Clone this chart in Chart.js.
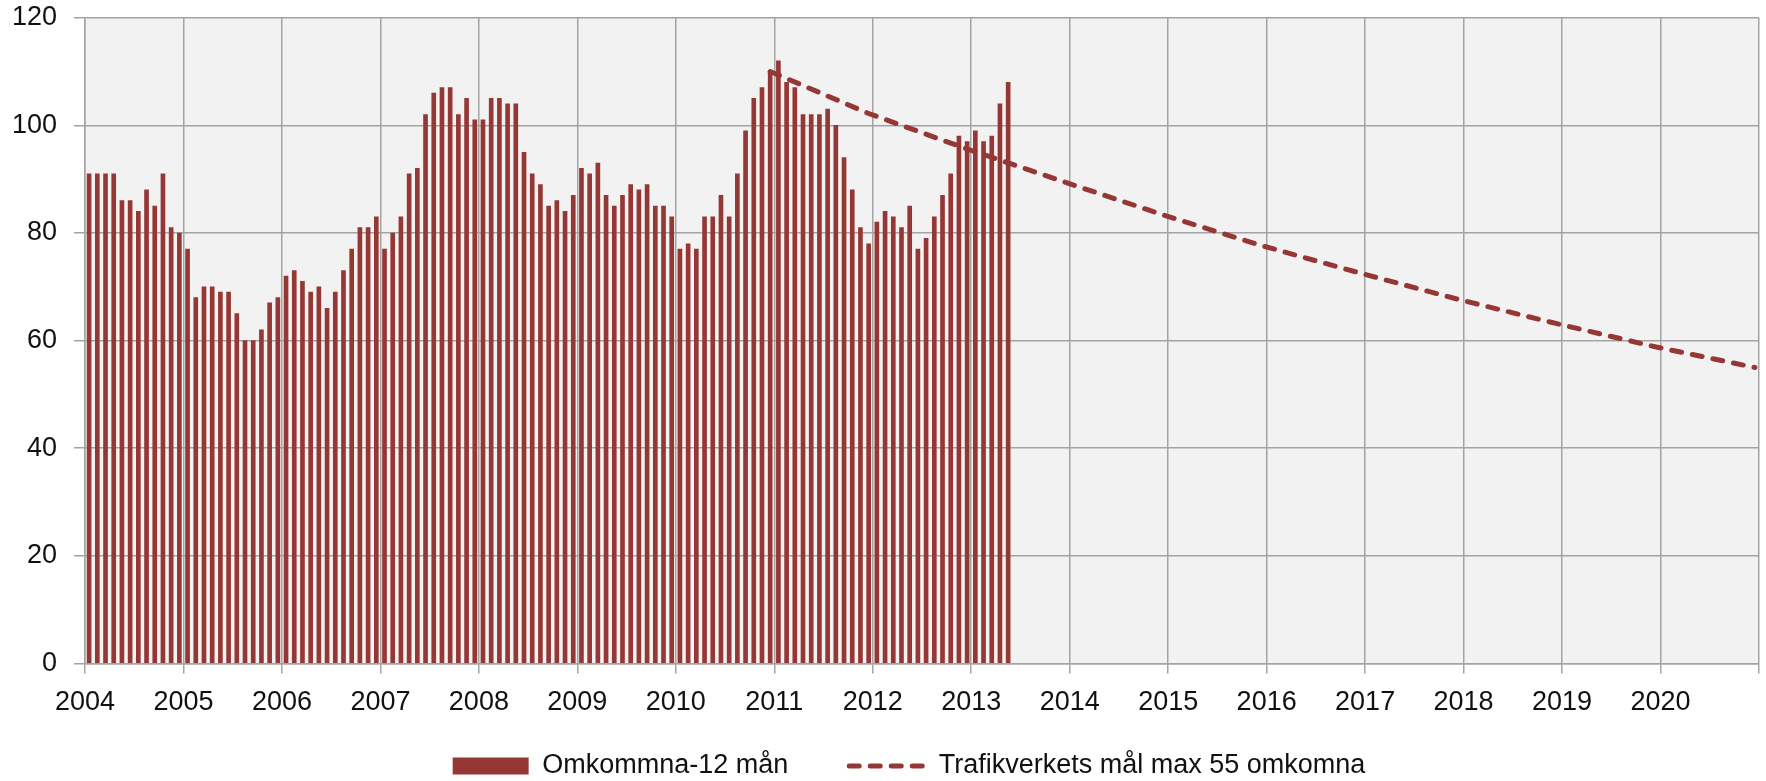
<!DOCTYPE html>
<html lang="sv">
<head>
<meta charset="UTF-8">
<title>Omkommna</title>
<script src="https://cdn.jsdelivr.net/npm/chart.js@4.4.0/dist/chart.umd.min.js"></script>
<style>
    * { margin: 0; padding: 0; box-sizing: border-box; }
    body { background: #fff; width: 1766px; height: 781px; overflow: hidden; }
    #wrap { width: 1766px; height: 781px; }
</style>
</head>
<body>
<div id="wrap"><canvas id="chart"></canvas></div>
<script>
// year labels on the x axis, one per January
const yearLabels = ['2004', '2005', '2006', '2007', '2008', '2009', '2010', '2011', '2012',
    '2013', '2014', '2015', '2016', '2017', '2018', '2019', '2020']

// killed, rolling 12 months, monthly from Jan 2004 to May 2013
const killed2004 = [91, 91, 91, 91, 86, 86, 84, 88, 85, 91, 81, 80]
const killed2005 = [77, 68, 70, 70, 69, 69, 65, 60, 60, 62, 67, 68]
const killed2006 = [72, 73, 71, 69, 70, 66, 69, 73, 77, 81, 81, 83]
const killed2007 = [77, 80, 83, 91, 92, 102, 106, 107, 107, 102, 105, 101]
const killed2008 = [101, 105, 105, 104, 104, 95, 91, 89, 85, 86, 84, 87]
const killed2009 = [92, 91, 93, 87, 85, 87, 89, 88, 89, 85, 85, 83]
const killed2010 = [77, 78, 77, 83, 83, 87, 83, 91, 99, 105, 107, 110]
const killed2011 = [112, 108, 107, 102, 102, 102, 103, 100, 94, 88, 81, 78]
const killed2012 = [82, 84, 83, 81, 85, 77, 79, 83, 87, 91, 98, 97]
const killed2013 = [99, 97, 98, 104, 108]

// Trafikverket target path, value each December
const goalYears = [2010, 2011, 2012, 2013, 2014, 2015, 2016, 2017, 2018, 2019, 2020]
const goalValues = [110, 102.2, 95.6, 89.4, 83.3, 77.6, 72.5, 67.6, 63.1, 58.8, 55]

const killed = [].concat(killed2004, killed2005, killed2006, killed2007, killed2008,
    killed2009, killed2010, killed2011, killed2012, killed2013)

const red = '#953735'
const gridColor = '#a3a3a3'
const goalDash = [10, 11]
const goalWidth = 5

// x is counted in months from Jan 2004, bars sit in the middle of their month
const barData = killed.map((v, i) => ({ x: i + 0.5, y: v }))
const goalData = goalYears.map((yr, i) => ({ x: (yr - 2004) * 12 + 11.5, y: goalValues[i] }))

Chart.defaults.font.family = '"Liberation Sans", Arial, sans-serif'
Chart.defaults.font.size = 27
Chart.defaults.color = '#111'

const plotBg = {
    id: 'plotBg',
    beforeDraw(chart) {
        const { ctx, chartArea: a } = chart
        ctx.save()
        ctx.fillStyle = '#f2f2f2'
        ctx.fillRect(a.left, a.top, a.right - a.left, a.bottom - a.top)
        ctx.restore()
    }
}

// legend row sits lower and a bit right of where chart.js puts it
const legendNudge = {
    id: 'legendNudge',
    afterLayout(chart) {
        const l = chart.legend
        l.top -= 31.5
        l.left += 26; l.right += 26
    }
}

new Chart(document.getElementById('chart'), {
    type: 'bar',
    data: {
        datasets: [{
            label: 'Omkommna-12 mån',
            data: barData,
            backgroundColor: red,
            borderWidth: 0,
            barThickness: 4,
            pointStyle: 'rect',
            order: 1
        }, {
            type: 'line',
            label: 'Trafikverkets mål max 55 omkomna',
            data: goalData,
            borderColor: red,
            backgroundColor: red,
            borderWidth: goalWidth,
            borderDash: goalDash,
            borderCapStyle: 'round',
            pointRadius: 0,
            pointStyle: 'line',
            tension: 0,
            order: 0
        }]
    },
    options: {
        responsive: true,
        maintainAspectRatio: false,
        animation: false,
        layout: { padding: 0 },
        scales: {
            x: {
                type: 'linear',
                min: 0,
                max: 204,
                offset: false,
                grid: { color: gridColor, lineWidth: 1.5, tickLength: 10, offset: false },
                border: { color: gridColor, width: 1.5 },
                ticks: {
                    stepSize: 12,
                    padding: 13,
                    maxRotation: 0,
                    autoSkip: false,
                    callback: v => yearLabels[v / 12] ?? ''
                },
                afterFit: s => {
                    s.height = 59.5
                    s.paddingLeft = 0
                    s.paddingRight = 7
                }
            },
            y: {
                min: 0,
                max: 120,
                grid: { color: gridColor, lineWidth: 1.5, tickLength: 11 },
                border: { color: gridColor, width: 1.5 },
                ticks: { stepSize: 20, padding: 17 },
                afterFit: s => {
                    s.width = 85
                    s.paddingTop = 17.7
                    s.paddingBottom = 0
                }
            }
        },
        plugins: {
            tooltip: { enabled: false },
            legend: {
                position: 'bottom',
                maxHeight: 58,
                labels: {
                    usePointStyle: true,
                    pointStyleWidth: 76,
                    boxHeight: 17,
                    padding: 61,
                    color: '#111',
                    sort: (a, b) => a.datasetIndex - b.datasetIndex,
                    generateLabels(chart) {
                        const items = Chart.defaults.plugins.legend.labels.generateLabels(chart)
                        const goal = items.find(it => it.datasetIndex === 1)
                        goal.lineDash = goalDash
                        goal.lineCap = 'round'
                        goal.lineWidth = goalWidth
                        goal.strokeStyle = red
                        return items
                    }
                }
            }
        }
    },
    plugins: [plotBg, legendNudge]
})
</script>
</body>
</html>
